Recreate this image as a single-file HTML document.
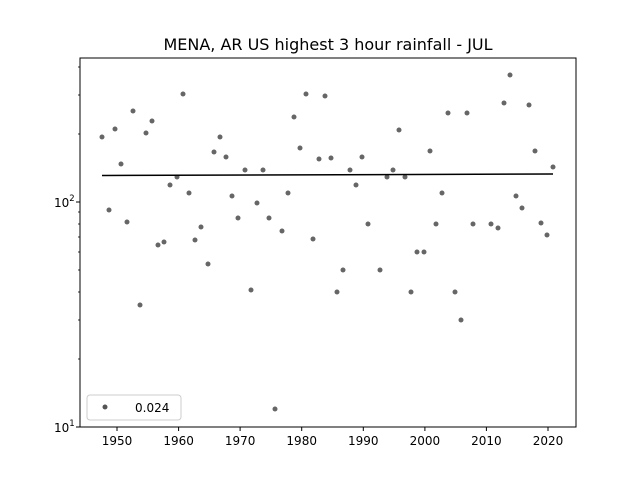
<!DOCTYPE html>
<html><head><meta charset="utf-8"><style>body{margin:0;background:#fff}svg{display:block}</style></head>
<body>
<svg width="640" height="480" xmlns="http://www.w3.org/2000/svg" font-family="'DejaVu Sans', 'Liberation Sans', sans-serif">
<rect width="640" height="480" fill="#fff"/>
<text x="328" y="50" font-size="16" text-anchor="middle" fill="#000">MENA, AR US highest 3 hour rainfall - JUL</text>
<g fill="#555" fill-opacity="0.9">
<circle cx="102" cy="137" r="2.5"/><circle cx="109" cy="210" r="2.5"/><circle cx="115" cy="129" r="2.5"/><circle cx="121" cy="164" r="2.5"/><circle cx="127" cy="222" r="2.5"/><circle cx="133" cy="111" r="2.5"/><circle cx="140" cy="305" r="2.5"/><circle cx="146" cy="133" r="2.5"/><circle cx="152" cy="121" r="2.5"/><circle cx="158" cy="245" r="2.5"/><circle cx="164" cy="242" r="2.5"/><circle cx="170" cy="185" r="2.5"/><circle cx="177" cy="177" r="2.5"/><circle cx="183" cy="94" r="2.5"/><circle cx="189" cy="193" r="2.5"/><circle cx="195" cy="240" r="2.5"/><circle cx="201" cy="227" r="2.5"/><circle cx="208" cy="264" r="2.5"/><circle cx="214" cy="152" r="2.5"/><circle cx="220" cy="137" r="2.5"/><circle cx="226" cy="157" r="2.5"/><circle cx="232" cy="196" r="2.5"/><circle cx="238" cy="218" r="2.5"/><circle cx="245" cy="170" r="2.5"/><circle cx="251" cy="290" r="2.5"/><circle cx="257" cy="203" r="2.5"/><circle cx="263" cy="170" r="2.5"/><circle cx="269" cy="218" r="2.5"/><circle cx="275" cy="409" r="2.5"/><circle cx="282" cy="231" r="2.5"/><circle cx="288" cy="193" r="2.5"/><circle cx="294" cy="117" r="2.5"/><circle cx="300" cy="148" r="2.5"/><circle cx="306" cy="94" r="2.5"/><circle cx="313" cy="239" r="2.5"/><circle cx="319" cy="159" r="2.5"/><circle cx="325" cy="96" r="2.5"/><circle cx="331" cy="158" r="2.5"/><circle cx="337" cy="292" r="2.5"/><circle cx="343" cy="270" r="2.5"/><circle cx="350" cy="170" r="2.5"/><circle cx="356" cy="185" r="2.5"/><circle cx="362" cy="157" r="2.5"/><circle cx="368" cy="224" r="2.5"/><circle cx="380" cy="270" r="2.5"/><circle cx="387" cy="177" r="2.5"/><circle cx="393" cy="170" r="2.5"/><circle cx="399" cy="130" r="2.5"/><circle cx="405" cy="177" r="2.5"/><circle cx="411" cy="292" r="2.5"/><circle cx="417" cy="252" r="2.5"/><circle cx="424" cy="252" r="2.5"/><circle cx="430" cy="151" r="2.5"/><circle cx="436" cy="224" r="2.5"/><circle cx="442" cy="193" r="2.5"/><circle cx="448" cy="113" r="2.5"/><circle cx="455" cy="292" r="2.5"/><circle cx="461" cy="320" r="2.5"/><circle cx="467" cy="113" r="2.5"/><circle cx="473" cy="224" r="2.5"/><circle cx="491" cy="224" r="2.5"/><circle cx="498" cy="228" r="2.5"/><circle cx="504" cy="103" r="2.5"/><circle cx="510" cy="75" r="2.5"/><circle cx="516" cy="196" r="2.5"/><circle cx="522" cy="208" r="2.5"/><circle cx="529" cy="105" r="2.5"/><circle cx="535" cy="151" r="2.5"/><circle cx="541" cy="223" r="2.5"/><circle cx="547" cy="235" r="2.5"/><circle cx="553" cy="167" r="2.5"/>
</g>
<line x1="102" y1="175.5" x2="553" y2="174" stroke="#000" stroke-width="1.5"/>
<rect x="80" y="58" width="496" height="369" fill="none" stroke="#000" stroke-width="1"/>
<g stroke="#000" stroke-width="1">
<line x1="117" y1="427" x2="117" y2="431"/><line x1="178.6" y1="427" x2="178.6" y2="431"/><line x1="240.1" y1="427" x2="240.1" y2="431"/><line x1="301.7" y1="427" x2="301.7" y2="431"/><line x1="363.3" y1="427" x2="363.3" y2="431"/><line x1="424.9" y1="427" x2="424.9" y2="431"/><line x1="486.4" y1="427" x2="486.4" y2="431"/><line x1="548" y1="427" x2="548" y2="431"/>
<line x1="76" y1="427" x2="80" y2="427"/><line x1="76" y1="202" x2="80" y2="202"/>
</g>
<g stroke="#000" stroke-width="0.8">
<line x1="78" y1="359" x2="80" y2="359"/><line x1="78" y1="320" x2="80" y2="320"/><line x1="78" y1="292" x2="80" y2="292"/><line x1="78" y1="270" x2="80" y2="270"/><line x1="78" y1="252" x2="80" y2="252"/><line x1="78" y1="237" x2="80" y2="237"/><line x1="78" y1="224" x2="80" y2="224"/><line x1="78" y1="212" x2="80" y2="212"/>
<line x1="78" y1="134" x2="80" y2="134"/><line x1="78" y1="95" x2="80" y2="95"/><line x1="78" y1="67" x2="80" y2="67"/>
</g>
<g font-size="12" fill="#000" text-anchor="middle">
<text x="117" y="445">1950</text><text x="178.6" y="445">1960</text><text x="240.1" y="445">1970</text><text x="301.7" y="445">1980</text><text x="363.3" y="445">1990</text><text x="424.9" y="445">2000</text><text x="486.4" y="445">2010</text><text x="548" y="445">2020</text>
</g>
<text x="54" y="432" font-size="12">10<tspan font-size="8.5" dy="-6">1</tspan></text>
<text x="54" y="207" font-size="12">10<tspan font-size="8.5" dy="-6">2</tspan></text>
<rect x="87" y="395" width="94" height="25" rx="3" fill="#fff" stroke="#ccc"/>
<circle cx="105" cy="407" r="2.5" fill="#555"/>
<text x="135" y="412" font-size="12">0.024</text>
</svg>
</body></html>
